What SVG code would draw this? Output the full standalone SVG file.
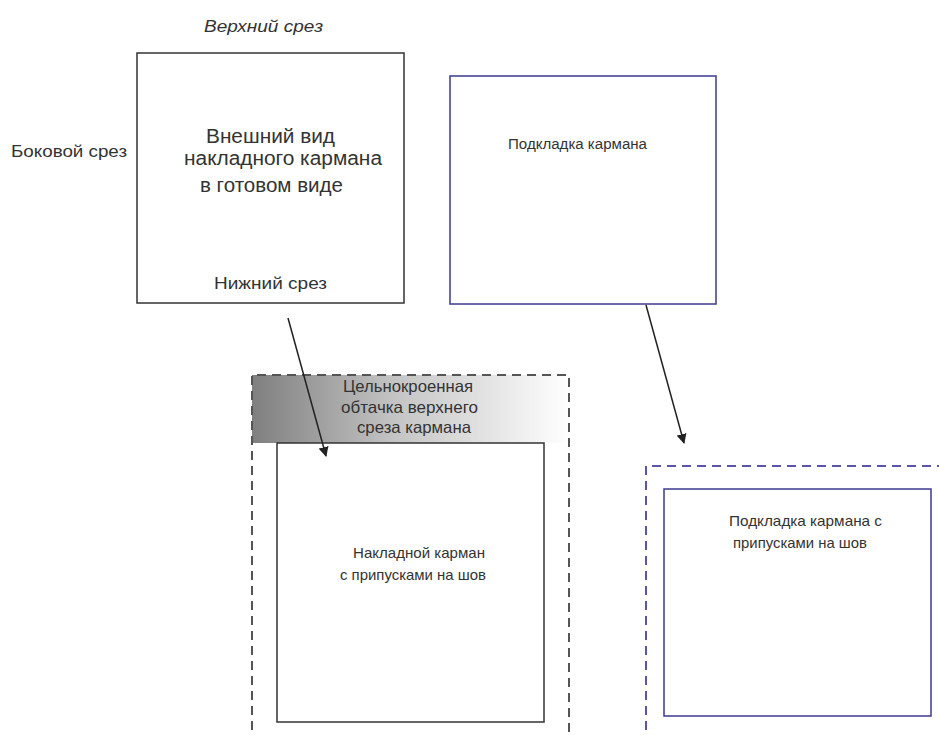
<svg xmlns="http://www.w3.org/2000/svg" width="939" height="735" viewBox="0 0 939 735">
<style>
text{font-family:"Liberation Sans",Arial,sans-serif;fill:#333}
.box{fill:#fff;stroke:#333;stroke-width:1.5}
.blue{fill:#fff;stroke:#3d3a8e;stroke-width:1.5}
.dash{fill:none;stroke:#555;stroke-width:2;stroke-dasharray:9,6}
.dashb{fill:none;stroke:#5a55a8;stroke-width:2;stroke-dasharray:9,6}
.conn{stroke:#222;stroke-width:1.5;fill:none;marker-end:url(#ah)}
</style>
<defs>
<linearGradient id="g" x1="0" x2="1" y1="0" y2="0">
<stop offset="0" stop-color="#7f7f7f"/>
<stop offset="0.45" stop-color="#c4c4c4"/>
<stop offset="1" stop-color="#ffffff"/>
</linearGradient>
<marker id="ah" markerWidth="10" markerHeight="10" refX="9" refY="5" orient="auto" markerUnits="userSpaceOnUse">
<path d="M0,0 L10,5 L0,10 Z" fill="#222"/>
</marker>
</defs>
<g id="top-view">
<rect class="box" x="137" y="53" width="267" height="250"/>
<text x="204" y="32" font-size="16.5" font-style="italic" textLength="119" lengthAdjust="spacingAndGlyphs">Верхний срез</text>
<text x="11" y="157" font-size="16" textLength="116" lengthAdjust="spacingAndGlyphs">Боковой срез</text>
<text x="206" y="143" font-size="19.5" textLength="129" lengthAdjust="spacingAndGlyphs">Внешний вид</text>
<text x="184" y="165" font-size="19.5" textLength="198" lengthAdjust="spacingAndGlyphs">накладного кармана</text>
<text x="200" y="192" font-size="19.5" textLength="143" lengthAdjust="spacingAndGlyphs">в готовом виде</text>
<text x="214" y="289" font-size="16.5" textLength="113" lengthAdjust="spacingAndGlyphs">Нижний срез</text>
</g>
<g id="lining">
<rect class="blue" x="450" y="76" width="266" height="228"/>
<text x="508" y="149" font-size="14" textLength="139" lengthAdjust="spacingAndGlyphs">Подкладка кармана</text>
</g>
<g id="pocket">
<rect x="252" y="375" width="317" height="68" fill="url(#g)"/>
<path class="dash" d="M252,745 V375 H569 V745"/>
<rect class="box" x="277" y="443" width="267" height="279"/>
<text x="343" y="392" font-size="16.5" textLength="130" lengthAdjust="spacingAndGlyphs">Цельнокроенная</text>
<text x="341" y="413" font-size="16.5" textLength="137" lengthAdjust="spacingAndGlyphs">обтачка верхнего</text>
<text x="357" y="433" font-size="16.5" textLength="114" lengthAdjust="spacingAndGlyphs">среза кармана</text>
<text x="353" y="558" font-size="15" textLength="132" lengthAdjust="spacingAndGlyphs">Накладной карман</text>
<text x="340" y="580" font-size="15" textLength="146" lengthAdjust="spacingAndGlyphs">с припусками на шов</text>
</g>
<g id="lining-allowance">
<path class="dashb" d="M646,745 V466 H945"/>
<rect class="blue" x="664" y="489" width="267" height="227"/>
<text x="729" y="526" font-size="14.5" textLength="153" lengthAdjust="spacingAndGlyphs">Подкладка кармана с</text>
<text x="733" y="548" font-size="14.5" textLength="134" lengthAdjust="spacingAndGlyphs">припусками на шов</text>
</g>
<g id="connectors">
<line class="conn" x1="288" y1="318" x2="326" y2="456"/>
<line class="conn" x1="646" y1="305" x2="684" y2="443"/>
</g>
</svg>
